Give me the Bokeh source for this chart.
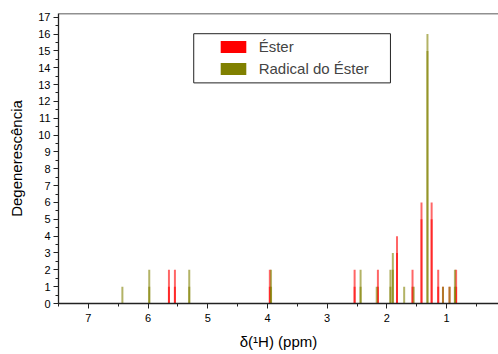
from bokeh.plotting import figure
from bokeh.models import (Range1d, SingleIntervalTicker, Legend, LegendItem,
                          BoxAnnotation, Span, ColumnDataSource)
from bokeh.embed import file_html
from bokeh.resources import INLINE

# ---- data ----
ester_ppm = [5.65, 5.55, 3.96, 2.54, 2.15, 1.83, 1.57, 1.42, 1.25, 1.14, 1.06, 0.95, 0.84]
ester_deg = [2, 2, 2, 2, 2, 4, 2, 6, 6, 2, 1, 1, 2]
radical_ppm = [6.43, 5.98, 5.31, 3.94, 2.44, 2.17, 1.94, 1.90, 1.71, 1.55, 1.32, 1.06, 0.95, 0.86]
radical_deg = [1, 2, 2, 2, 2, 1, 2, 3, 1, 1, 16, 1, 1, 2]
x_ticks = [1, 2, 3, 4, 5, 6, 7]
series_names = ["Éster", "Radical do Éster"]
series_colors = ["#FF0000", "#808000"]

FONT = "Liberation Sans"
Y_END = 17.22

p = figure(width=498, height=354, output_backend="svg", toolbar_location=None,
           x_range=Range1d(7.5, 0.13), y_range=Range1d(0, Y_END),
           min_border_left=58, min_border_right=0, min_border_top=13, min_border_bottom=51)
p.outline_line_color = None
p.xgrid.visible = False
p.ygrid.visible = False

for ppm, deg, col in [(ester_ppm, ester_deg, series_colors[0]),
                      (radical_ppm, radical_deg, series_colors[1])]:
    zeros = [0] * len(ppm)
    p.segment(x0=ppm, y0=zeros, x1=ppm, y1=deg, line_color=col, line_width=2,
              line_alpha=0.6, line_cap="butt")
    lower = [d - 1 for d in deg]
    p.segment(x0=ppm, y0=zeros, x1=ppm, y1=lower, line_color=col, line_width=2,
              line_alpha=0.6, line_cap="butt")

# axes
for ax in (p.xaxis[0], p.yaxis[0]):
    ax.ticker = SingleIntervalTicker(interval=1, num_minor_ticks=2)
    ax.axis_line_width = 1.3
    ax.axis_line_color = "#222222"
    ax.major_tick_line_color = "#222222"
    ax.minor_tick_line_color = "#222222"
    ax.major_tick_in = 0
    ax.major_tick_out = 5
    ax.minor_tick_in = 0
    ax.minor_tick_out = 3
    ax.major_label_text_font = FONT
    ax.major_label_text_font_size = "11px"
    ax.major_label_text_color = "black"
    ax.axis_label_text_font = FONT
    ax.axis_label_text_font_size = "15px"
    ax.axis_label_text_font_style = "normal"
    ax.axis_label_text_color = "black"

p.xaxis.major_label_standoff = 5
p.xaxis.axis_label = "δ(¹H) (ppm)"
p.xaxis.axis_label_standoff = 8
p.yaxis.major_label_standoff = 3
p.yaxis.axis_label = "Degenerescência"
p.yaxis.axis_label_standoff = 10

p.add_layout(Span(location=Y_END, dimension="width", line_color="#222222", line_width=1.5))

# legend box and legend
p.add_layout(BoxAnnotation(left=5.235, right=1.94, top=16.02, bottom=13.1,
                           fill_color="white", fill_alpha=1.0,
                           line_color="#222222", line_width=1, line_alpha=1.0))
nan = float("nan")
items = []
for name, col in zip(series_names, series_colors):
    src = ColumnDataSource(data=dict(l=[nan], r=[nan], t=[nan], b=[nan]))
    r = p.quad(left="l", right="r", top="t", bottom="b", source=src,
               fill_color=col, line_color=None)
    items.append(LegendItem(label=name, renderers=[r]))
leg = Legend(items=items, location=(158.7, 225.5), padding=0, spacing=4,
             glyph_width=32, glyph_height=15, label_height=18, label_standoff=10,
             label_text_font=FONT, label_text_font_size="15px",
             border_line_alpha=0, background_fill_alpha=0)
p.add_layout(leg)

open("out.html", "w").write(file_html(p, INLINE))
